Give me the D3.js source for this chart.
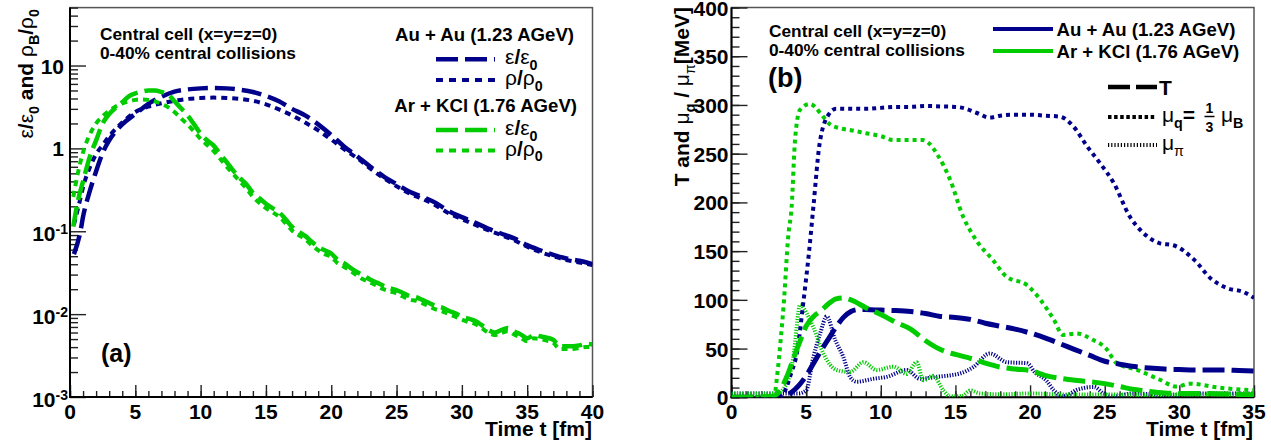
<!DOCTYPE html>
<html><head><meta charset="utf-8">
<script src="https://cdn.jsdelivr.net/npm/d3@7"></script>
<style>
html,body{margin:0;padding:0;background:#fff;}
svg{display:block;font-family:"Liberation Sans",Arial,Helvetica,sans-serif;}
</style></head><body>
<svg id="chart" width="1271" height="440"></svg>
<script>
// ---------- panel (a): energy density and baryon density, central cell ----------
const timeAu = [0.3,0.8,1,1.5,2,2.5,3,3.5,4,5,6,7,8,9,10,11,12,13,14,15,16,17,18,19,20,21,22,23,24,25,26,27,28,29,30,31,32,33,34,35,36,37,38,39,40];
const auEnergy = [0.053,0.10,0.15,0.30,0.53,0.88,1.25,1.6,1.95,2.6,3.45,4.2,4.85,5.15,5.3,5.35,5.3,5.1,4.8,4.3,3.7,3.0,2.5,1.95,1.45,1.05,0.80,0.60,0.46,0.37,0.30,0.26,0.22,0.175,0.148,0.127,0.108,0.094,0.082,0.068,0.059,0.052,0.047,0.044,0.040];
const auDensity = [0.12,0.25,0.34,0.58,0.85,1.1,1.4,1.72,2.05,2.75,3.2,3.5,3.75,3.95,4.05,4.1,4.05,3.95,3.75,3.4,2.95,2.5,2.05,1.65,1.28,0.97,0.76,0.57,0.44,0.35,0.285,0.245,0.205,0.165,0.14,0.12,0.103,0.09,0.078,0.065,0.056,0.05,0.045,0.042,0.039];

const timeAr = [0.25,0.6,1,1.5,2,2.5,3,3.5,4,4.5,5,5.5,6,6.5,7,7.5,8,8.5,9,9.5,10,10.5,11,11.5,12,12.5,13,13.5,14,14.5,15,15.5,16,16.5,17,17.5,18,18.5,19,19.5,20,20.5,21,21.5,22,22.5,23,23.5,24,24.5,25,25.5,26,26.5,27,27.5,28,28.5,29,29.5,30,30.5,31,31.5,32,32.5,33,33.5,34,34.5,35,35.5,36,36.5,37,37.5,38,38.5,39,39.5,40];
const arEnergy = [0.114,0.23,0.40,0.78,1.25,2.0,2.6,3.1,3.6,4.25,4.6,4.85,5.0,5.0,4.8,4.5,3.7,3.05,2.5,1.95,1.5,1.25,1.08,0.85,0.68,0.54,0.44,0.37,0.29,0.25,0.215,0.19,0.17,0.14,0.113,0.099,0.088,0.075,0.065,0.059,0.054,0.045,0.041,0.036,0.032,0.029,0.026,0.024,0.022,0.0205,0.0195,0.018,0.0165,0.016,0.0148,0.0136,0.0125,0.012,0.011,0.0102,0.0094,0.0088,0.0083,0.0074,0.0065,0.006,0.0064,0.0068,0.0062,0.0057,0.0051,0.0056,0.0054,0.0052,0.0049,0.0041,0.0041,0.0041,0.0042,0.0044,0.0043];
const arDensity = [0.26,0.5,0.9,1.45,2.0,2.45,2.85,3.2,3.5,3.7,3.85,3.9,3.85,3.7,3.45,3.15,2.75,2.3,1.95,1.6,1.3,1.1,0.93,0.75,0.6,0.49,0.4,0.33,0.26,0.22,0.19,0.17,0.15,0.125,0.102,0.09,0.08,0.068,0.059,0.053,0.049,0.041,0.037,0.033,0.029,0.026,0.024,0.022,0.02,0.0188,0.0178,0.0163,0.015,0.0145,0.0135,0.0124,0.0114,0.0108,0.01,0.0093,0.0086,0.008,0.0076,0.0068,0.006,0.0056,0.0059,0.0062,0.0057,0.0052,0.0047,0.0051,0.005,0.0048,0.0045,0.0038,0.0038,0.0038,0.0039,0.004,0.004];

const logTicksA = [1e-3,1e-2,1e-1,1,10];
const timeTicks = [0,5,10,15,20,25,30,35,40];

// ---------- panel (b): temperature and chemical potentials, central cell ----------
const auTempTime = [0,3,3.5,4,4.5,5,5.5,6,6.5,7,7.5,8,8.5,9,10,11,12,13,14,15,16,17,18,19,20,21,22,23,24,25,26,27,28,29,30,31,32,33,34,35];
const auTemp = [0,0,1,5,12,22,35,48,60,72,82,88,90,90,89.5,89,88,86,83,82,80,76,73,70,66,61,55,49,43,37,34,31.5,30,29,28.5,28,28,28,27.5,27];
const arTempTime = [0,2.8,3.2,3.7,4.2,4.6,5,5.5,6,6.5,7,7.5,8,9,10,11,12,13,14,15,16,17,18,19,20,21,22,23,24,25,26,27,28,29,30,32,34,35];
const arTemp = [0,1,6,21,42,58,73,83,89,96,101,102,100,92,85,77,70,58,49,44,40,35,31,29,27.5,22.5,19.5,17.5,16,14,11,8,6,4.5,4,4,3,2.5];

const auMuqTime = [0,3.3,3.7,4,4.4,4.8,5.2,5.5,5.9,6.5,7,8,9,10,11,12,13,14,15,15.5,16.4,17.3,18,19,20,21,22,22.9,23.8,24.7,25.6,26.7,27.5,28.7,29.6,31,32.1,33.2,34.3,35];
const auMuq = [0,0,11,25,47,96,150,198,260,290,296,296,296,297,298,298,299,298.5,298,297,292,287,289,290,290,289,288,278,258,240,220,185,170,158,156,141,122,112,108,102];
const arMuqTime = [0,2.7,2.9,3.05,3.3,3.5,3.8,4.03,4.26,4.59,5.26,5.6,5.93,6.6,7.27,8,9,10,10.84,12,12.8,13.2,13.75,14.65,15.5,16.4,17.5,18.4,19.8,20.7,21.6,22.2,23.1,24.2,25.1,25.8,27.2,28.7,29.8,30.7,32.6,35];
const arMuq = [0,0,4,21,60,96,165,196,265,295,301,298,292,280,276,274,271,268,264,264,264,261,250,223,186,161,141,124,115,100,79.5,64,65.5,59,50,35,28,18,11,14,10,7];

const auMupiTime = [0,4.5,5,5.48,5.93,6.38,6.94,7.5,7.94,8.39,9.5,10.4,11.74,12.63,13.75,15.3,16.2,17.3,18.45,19.8,20.3,21.1,21.6,22.2,23.2,24.3,24.9,25.6,26.9,29.2,31.4,35];
const auMupi = [4,4,7,41,65,83,59,41,21,16,19,21,28,19,21,24.5,31,45,36,35,26,17,7,1,8,10.6,4,1,4,2.4,4,4];
const arMupiTime = [0,3,3.7,4.14,4.6,5.04,5.48,6.15,7.05,7.94,8.84,9.73,10.84,11.74,12.4,12.85,13.5,14.2,14.6,15.4,16,16.65,18,20,22,24,26,28,30,35];
const arMupi = [4,4,14,41,95,86,72,45,28,26,36,28,31.5,24,36,17.5,22,7,1,1,7,4,3,4,3,3,3,2,3,3];

const mevTicks = [0,50,100,150,200,250,300,350,400];
const timeTicksB = [0,5,10,15,20,25,30,35];

// ---------- styles ----------
const BLUE = "#00008b", GREEN = "#00cc00";
const svg = d3.select("#chart");
const zip = (t, v) => t.map((d, i) => [d, v[i]]);

function rich(sel, parts, size) {
  let shift = 0;
  parts.forEach(p => {
    const target = p.sub ? size * 0.28 : (p.sup ? -size * 0.38 : 0);
    const ts = sel.append("tspan").text(p.t).attr("dy", target - shift)
      .attr("font-size", (p.sub || p.sup) ? size * 0.68 : size)
      .attr("font-weight", p.w || "bold");
    shift = target;
  });
  return sel;
}

function frameAndTicks(g, x, y, xMajor, xMinor, yMajor, yMinor) {
  const [x0, x1] = x.range(), [y0, y1] = y.range();
  g.append("rect").attr("x", x0).attr("y", y1).attr("width", x1 - x0).attr("height", y0 - y1)
    .attr("fill", "none").attr("stroke", "#555").attr("stroke-width", 1.5);
  const tick = (sel) => sel.selectAll(".tick line").attr("stroke", "#222").attr("stroke-width", 1.4);
  const strip = (sel) => { sel.select(".domain").remove(); sel.selectAll("text").remove(); };
  g.append("g").attr("transform", `translate(0,${y0})`)
    .call(d3.axisBottom(x).tickValues(xMinor).tickSize(-6)).call(strip).call(tick);
  g.append("g").attr("transform", `translate(0,${y0})`)
    .call(d3.axisBottom(x).tickValues(xMajor).tickSize(-12)).call(strip).call(tick);
  g.append("g").attr("transform", `translate(${x0},0)`)
    .call(d3.axisLeft(y).tickValues(yMinor).tickSize(-8)).call(strip).call(tick);
  g.append("g").attr("transform", `translate(${x0},0)`)
    .call(d3.axisLeft(y).tickValues(yMajor).tickSize(-16)).call(strip).call(tick);
  g.append("line").attr("x1", x0).attr("x2", x0).attr("y1", y1).attr("y2", y0 + 1)
    .attr("stroke", "#000").attr("stroke-width", 2);
  g.append("line").attr("x1", x0 - 1).attr("x2", x1).attr("y1", y0).attr("y2", y0)
    .attr("stroke", "#000").attr("stroke-width", 2);
  g.selectAll("text.xl").data(xMajor).join("text").attr("class", "xl")
    .attr("x", d => x(d)).attr("y", y0 + 22).attr("text-anchor", "middle")
    .attr("font-size", 21).attr("font-weight", "bold").text(d => d);
}

function drawSeries(g, x, y, pts, color, dash, width, clipId) {
  const line = d3.line().x(d => x(d[0])).y(d => y(d[1])).curve(d3.curveMonotoneX);
  g.append("path").datum(pts).attr("d", line).attr("fill", "none")
    .attr("stroke", color).attr("stroke-width", width).attr("stroke-dasharray", dash)
    .attr("clip-path", `url(#${clipId})`);
}

// ================= panel (a) =================
const xA = d3.scaleLinear().domain([0, 40]).range([70, 592.5]);
const yA = d3.scaleLog().domain([1e-3, 50]).range([397, 7.6]);
const gA = svg.append("g");
gA.append("clipPath").attr("id", "clipA").append("rect")
  .attr("x", 70).attr("y", 7.6).attr("width", 522.5).attr("height", 389.4);

const minorA = [];
[1e-3, 1e-2, 1e-1, 1, 10].forEach(dec => { for (let k = 2; k <= 9; k++) if (dec * k <= 50) minorA.push(dec * k); });
frameAndTicks(gA, xA, yA, timeTicks, d3.range(0, 41, 1), logTicksA, minorA);

logTicksA.forEach(v => {
  const e = Math.round(Math.log10(v));
  const t = gA.append("text").attr("text-anchor", "end").attr("font-weight", "bold").attr("font-size", 21);
  if (e < 0) {
    t.attr("x", 68).attr("y", yA(v) + 10);
    t.append("tspan").text("10");
    t.append("tspan").text(String(e)).attr("font-size", 14).attr("dy", -7);
  } else {
    t.attr("x", 64).attr("y", yA(v) + 8).text(e === 0 ? "1" : "10");
  }
});

drawSeries(gA, xA, yA, zip(timeAu, auDensity), BLUE, "6,5", 4, "clipA");
drawSeries(gA, xA, yA, zip(timeAu, auEnergy), BLUE, "20,7", 4.5, "clipA");
drawSeries(gA, xA, yA, zip(timeAr, arDensity), GREEN, "6,5", 4, "clipA");
drawSeries(gA, xA, yA, zip(timeAr, arEnergy), GREEN, "20,7", 4.5, "clipA");

gA.append("text").attr("x", 592).attr("y", 436).attr("text-anchor", "end")
  .attr("font-size", 21).attr("font-weight", "bold").text("Time t [fm]");
rich(gA.append("text").attr("transform", "translate(33,9) rotate(-90)").attr("text-anchor", "end"),
  [{t: "ε", w: "normal"}, {t: "/"}, {t: "ε", w: "normal"}, {t: "0", sub: true}, {t: " and "},
   {t: "ρ", w: "normal"}, {t: "B", sub: true}, {t: "/"}, {t: "ρ", w: "normal"}, {t: "0", sub: true}], 21);

gA.append("text").attr("x", 100).attr("y", 39.5).attr("font-size", 17.3).attr("font-weight", "bold").text("Central cell (x=y=z=0)");
gA.append("text").attr("x", 100).attr("y", 59).attr("font-size", 17.3).attr("font-weight", "bold").text("0-40% central collisions");
gA.append("text").attr("x", 101).attr("y", 362).attr("font-size", 25).attr("font-weight", "bold").text("(a)");

// legend (a)
gA.append("text").attr("x", 574).attr("y", 40.5).attr("text-anchor", "end").attr("font-size", 18.6).attr("font-weight", "bold").text("Au + Au (1.23 AGeV)");
gA.append("text").attr("x", 577).attr("y", 111.5).attr("text-anchor", "end").attr("font-size", 18.6).attr("font-weight", "bold").text("Ar + KCl (1.76 AGeV)");
const legA = [
  {y: 59.3, c: BLUE, dash: "22,7", w: 4.5, lab: "ε"},
  {y: 80, c: BLUE, dash: "7,6", w: 4, lab: "ρ"},
  {y: 130, c: GREEN, dash: "22,7", w: 4.5, lab: "ε"},
  {y: 150.5, c: GREEN, dash: "7,6", w: 4, lab: "ρ"}
];
legA.forEach(l => {
  gA.append("line").attr("x1", 436).attr("x2", 495).attr("y1", l.y).attr("y2", l.y)
    .attr("stroke", l.c).attr("stroke-width", l.w).attr("stroke-dasharray", l.dash);
  rich(gA.append("text").attr("x", 505).attr("y", l.y + 5),
    [{t: l.lab, w: "normal"}, {t: "/"}, {t: l.lab, w: "normal"}, {t: "0", sub: true}], 21);
});

// ================= panel (b) =================
const xB = d3.scaleLinear().domain([0, 35]).range([731.5, 1254]);
const yB = d3.scaleLinear().domain([0, 400]).range([397.3, 7.5]);
const gB = svg.append("g");
gB.append("clipPath").attr("id", "clipB").append("rect")
  .attr("x", 731.5).attr("y", 7.5).attr("width", 522.5).attr("height", 389.8);
frameAndTicks(gB, xB, yB, timeTicksB, d3.range(0, 36, 1), mevTicks, d3.range(0, 401, 10));
gB.selectAll("text.yl").data(mevTicks).join("text").attr("class", "yl")
  .attr("x", 728.5).attr("y", d => yB(d) + 8).attr("text-anchor", "end")
  .attr("font-size", 21).attr("font-weight", "bold").text(d => d);

drawSeries(gB, xB, yB, zip(auMupiTime, auMupi), BLUE, "1.2,1.5", 4, "clipB");
drawSeries(gB, xB, yB, zip(arMupiTime, arMupi), GREEN, "1.2,1.5", 4, "clipB");
drawSeries(gB, xB, yB, zip(auMuqTime, auMuq), BLUE, "4,4", 4, "clipB");
drawSeries(gB, xB, yB, zip(arMuqTime, arMuq), GREEN, "4,4", 4, "clipB");
drawSeries(gB, xB, yB, zip(auTempTime, auTemp), BLUE, "22,7", 5, "clipB");
drawSeries(gB, xB, yB, zip(arTempTime, arTemp), GREEN, "22,7", 5, "clipB");

gB.append("text").attr("x", 1253).attr("y", 436).attr("text-anchor", "end")
  .attr("font-size", 21).attr("font-weight", "bold").text("Time t [fm]");
rich(gB.append("text").attr("transform", "translate(689,7) rotate(-90)").attr("text-anchor", "end"),
  [{t: "T and "}, {t: "μ", w: "normal"}, {t: "q", sub: true}, {t: " / "},
   {t: "μ", w: "normal"}, {t: "π", sub: true, w: "normal"}, {t: "[MeV]"}], 21);

gB.append("text").attr("x", 769).attr("y", 36.5).attr("font-size", 17.3).attr("font-weight", "bold").text("Central cell (x=y=z=0)");
gB.append("text").attr("x", 769).attr("y", 55.5).attr("font-size", 17.3).attr("font-weight", "bold").text("0-40% central collisions");
gB.append("text").attr("x", 768).attr("y", 87).attr("font-size", 27).attr("font-weight", "bold").text("(b)");

// legend (b)
[{y: 29, c: BLUE, lab: "Au + Au (1.23 AGeV)"}, {y: 51, c: GREEN, lab: "Ar + KCl (1.76 AGeV)"}].forEach(l => {
  gB.append("line").attr("x1", 993).attr("x2", 1053).attr("y1", l.y).attr("y2", l.y).attr("stroke", l.c).attr("stroke-width", 4);
  gB.append("text").attr("x", 1056.5).attr("y", l.y + 7).attr("font-size", 18.6).attr("font-weight", "bold").text(l.lab);
});
gB.append("line").attr("x1", 1108).attr("x2", 1157).attr("y1", 87).attr("y2", 87)
  .attr("stroke", "#000").attr("stroke-width", 4.5).attr("stroke-dasharray", "22,6");
gB.append("text").attr("x", 1159).attr("y", 94.5).attr("font-size", 21).attr("font-weight", "bold").text("T");
gB.append("line").attr("x1", 1108).attr("x2", 1155).attr("y1", 117).attr("y2", 117)
  .attr("stroke", "#000").attr("stroke-width", 4).attr("stroke-dasharray", "3.5,2.6");
rich(gB.append("text").attr("x", 1162).attr("y", 122), [{t: "μ", w: "normal"}, {t: "q", sub: true}, {t: "="}], 21);
gB.append("text").attr("x", 1209.5).attr("y", 113).attr("text-anchor", "middle").attr("font-size", 14).attr("font-weight", "bold").text("1");
gB.append("line").attr("x1", 1204.5).attr("x2", 1214.5).attr("y1", 116.5).attr("y2", 116.5).attr("stroke", "#000").attr("stroke-width", 1.5);
gB.append("text").attr("x", 1209.5).attr("y", 131.5).attr("text-anchor", "middle").attr("font-size", 14).attr("font-weight", "bold").text("3");
rich(gB.append("text").attr("x", 1221).attr("y", 122), [{t: "μ", w: "normal"}, {t: "B", sub: true}], 21);
gB.append("line").attr("x1", 1108).attr("x2", 1157).attr("y1", 145).attr("y2", 145)
  .attr("stroke", "#000").attr("stroke-width", 4).attr("stroke-dasharray", "1.2,2");
rich(gB.append("text").attr("x", 1162).attr("y", 150), [{t: "μ", w: "normal"}, {t: "π", sub: true, w: "normal"}], 21);
</script>
</body></html>
